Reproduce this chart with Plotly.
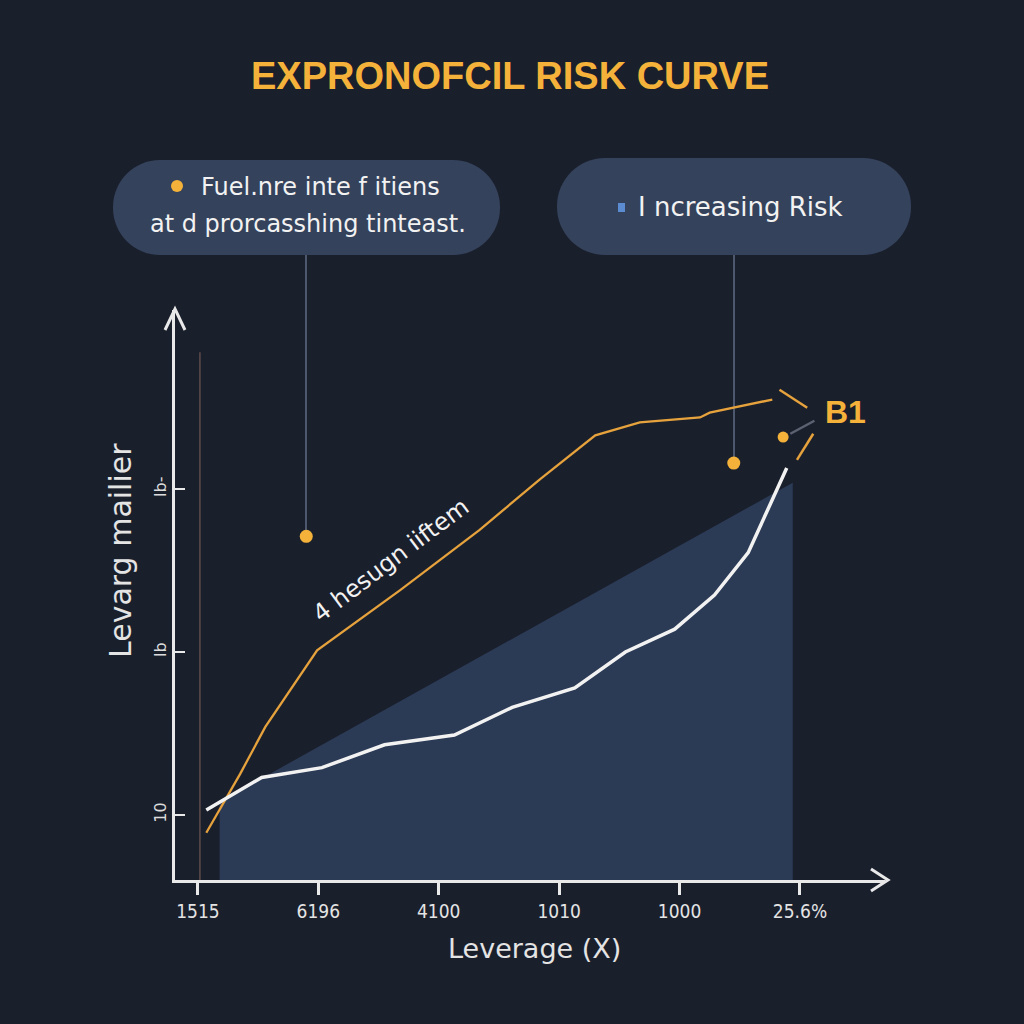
import plotly.graph_objects as go

# ---------------- data ----------------
x_tick_pos = [0, 1, 2, 3, 4, 5]
x_tick_labels = ["1515", "6196", "4100", "1010", "1000", "25.6%"]
y_tick_pos = [0, 1, 2]
y_tick_labels = ["10", "lb", "lb-"]

white_x = [0.07, 0.53, 1.03, 1.55, 2.13, 2.61, 3.13, 3.55, 3.96, 4.29, 4.57, 4.79, 4.89]
white_y = [0.03, 0.23, 0.29, 0.43, 0.49, 0.66, 0.78, 1.00, 1.14, 1.35, 1.61, 1.96, 2.13]

orange_x = [0.07, 0.35, 0.56, 0.99, 1.68, 2.34, 2.84, 3.30, 3.67, 4.17, 4.25, 4.77]
orange_y = [-0.11, 0.25, 0.54, 1.01, 1.38, 1.75, 2.06, 2.33, 2.41, 2.44, 2.47, 2.55]

band_x = [0.18, 0.18, 4.94, 4.94]
band_y = [-0.40, 0.08, 2.04, -0.40]

pin_x = [0.90, 4.45, 4.86]
pin_y = [1.71, 2.16, 2.32]

guide_x = [0.017, 0.017]
guide_y = [-0.40, 2.84]

# decorative strokes near "B1"
stroke1_x = [4.83, 5.06]; stroke1_y = [2.61, 2.50]
stroke2_x = [4.92, 5.12]; stroke2_y = [2.34, 2.42]
stroke3_x = [4.975, 5.11]; stroke3_y = [2.18, 2.34]

title_text = "EXPRONOFCIL RISK CURVE"
box1_lines = ["Fuel.nre inte f itiens", "at d prorcasshing tinteast."]
box2_text = "I ncreasing Risk"
curve_label = "4 hesugn iiftem"
b1_label = "B1"
x_title = "Leverage (X)"
y_title = "Levarg mailier"

# ---------------- styling ----------------
BG = "#1a1f2c"
BOX = "#34425b"
BAND = "#2b3a55"
ORANGE = "#e6a23c"
GOLD = "#f4b23a"
WHITE = "#f2f2f2"
AXIS = "#e9e9e9"
FONT = "DejaVu Sans, Verdana, sans-serif"
TFONT = "Liberation Sans, Arial, sans-serif"
NARROW = "DejaVu Sans Condensed, Liberation Sans Narrow, Arial Narrow, sans-serif"

L, R, T, B = 175, 885, 310, 880


def PX(px):
    return (px - L) / (R - L)


def PY(py):
    return (B - py) / (B - T)


def pill(x0, y0, x1, y1, r):
    k = 0.552 * r

    def p(x, y):
        return f"{PX(x):.5f},{PY(y):.5f}"
    d = f"M {p(x0 + r, y0)} L {p(x1 - r, y0)} "
    d += f"C {p(x1 - r + k, y0)} {p(x1, y0 + r - k)} {p(x1, y0 + r)} "
    d += f"L {p(x1, y1 - r)} "
    d += f"C {p(x1, y1 - r + k)} {p(x1 - r + k, y1)} {p(x1 - r, y1)} "
    d += f"L {p(x0 + r, y1)} "
    d += f"C {p(x0 + r - k, y1)} {p(x0, y1 - r + k)} {p(x0, y1 - r)} "
    d += f"L {p(x0, y0 + r)} "
    d += f"C {p(x0, y0 + r - k)} {p(x0 + r - k, y0)} {p(x0 + r, y0)} Z"
    return d


fig = go.Figure()

# shaded band
fig.add_trace(go.Scatter(x=band_x, y=band_y, fill="toself", fillcolor=BAND,
                         line=dict(width=0), mode="lines", hoverinfo="skip"))
# thin vertical guide
fig.add_trace(go.Scatter(x=guide_x, y=guide_y, mode="lines",
                         line=dict(color="#5e4c4c", width=1.5), hoverinfo="skip"))
# orange curve
fig.add_trace(go.Scatter(x=orange_x, y=orange_y, mode="lines",
                         line=dict(color=ORANGE, width=2.3)))
# white curve
fig.add_trace(go.Scatter(x=white_x, y=white_y, mode="lines",
                         line=dict(color=WHITE, width=3.5)))
# decorative strokes
for sx, sy, c in [(stroke1_x, stroke1_y, ORANGE), (stroke2_x, stroke2_y, "#5d6273"),
                  (stroke3_x, stroke3_y, ORANGE)]:
    fig.add_trace(go.Scatter(x=sx, y=sy, mode="lines", line=dict(color=c, width=2.5)))

# pins
fig.add_trace(go.Scatter(x=pin_x, y=pin_y, mode="markers", opacity=1,
                         marker=dict(color=GOLD, size=[13, 13, 11], opacity=1,
                                     line=dict(width=0))))

shapes = []
# connector lines from boxes to pins
shapes.append(dict(type="line", xref="paper", yref="paper",
                   x0=PX(306), y0=PY(255), x1=PX(306), y1=PY(532),
                   line=dict(color="#5f6c84", width=1.5), layer="below"))
shapes.append(dict(type="line", xref="paper", yref="paper",
                   x0=PX(734), y0=PY(255), x1=PX(734), y1=PY(458),
                   line=dict(color="#5f6c84", width=1.5), layer="below"))
# callout boxes
shapes.append(dict(type="path", xref="paper", yref="paper", path=pill(113, 160, 500, 255, 47),
                   fillcolor=BOX, line=dict(width=0), layer="below"))
shapes.append(dict(type="path", xref="paper", yref="paper", path=pill(557, 158, 911, 255, 48),
                   fillcolor=BOX, line=dict(width=0), layer="below"))
# axis arrowheads
shapes.append(dict(type="path", xref="paper", yref="paper",
                   path=f"M {PX(165)},{PY(330)} L {PX(175)},{PY(309)} L {PX(185)},{PY(330)}",
                   line=dict(color=AXIS, width=3)))
shapes.append(dict(type="path", xref="paper", yref="paper",
                   path=f"M {PX(871)},{PY(869)} L {PX(888)},{PY(880)} L {PX(871)},{PY(891)}",
                   line=dict(color=AXIS, width=3)))
# small markers inside boxes
shapes.append(dict(type="circle", xref="paper", yref="paper",
                   x0=PX(171), x1=PX(183), y0=PY(180), y1=PY(192),
                   fillcolor=GOLD, line=dict(width=0)))
shapes.append(dict(type="rect", xref="paper", yref="paper",
                   x0=PX(618), x1=PX(625), y0=PY(203), y1=PY(212),
                   fillcolor="#5b8bd0", line=dict(width=0)))


def ann(text, x, y, size, color=WHITE, family=FONT, angle=0):
    return dict(text=text, x=PX(x), y=PY(y), xref="paper", yref="paper",
                xanchor="center", yanchor="middle", textangle=angle,
                showarrow=False, font=dict(family=family, size=size, color=color))


annotations = [
    ann(f"<b>{title_text}</b>", 510, 76, 38, GOLD, TFONT),
    ann(box1_lines[0], 320, 187, 24),
    ann(box1_lines[1], 308, 224, 24),
    ann(box2_text, 740, 207, 26),
    ann(curve_label, 391, 560, 24, angle=-37),
    ann(f"<b>{b1_label}</b>", 845, 412, 32, GOLD, TFONT),
    ann(x_title, 534, 948, 27, "#e4e4e4"),
    ann(y_title, 120, 551, 30, "#e4e4e4", angle=-90),
]

fig.update_layout(
    width=1024, height=1024, autosize=False,
    paper_bgcolor=BG, plot_bgcolor=BG,
    margin=dict(l=L, r=1024 - R, t=T, b=1024 - B),
    showlegend=False,
    shapes=shapes, annotations=annotations,
    xaxis=dict(range=[-0.19, 5.706], tickvals=x_tick_pos, ticktext=x_tick_labels,
               showgrid=False, zeroline=False, showline=True, linecolor=AXIS, linewidth=3,
               ticks="outside", ticklen=12, tickwidth=2.5, tickcolor=AXIS,
               tickfont=dict(family=NARROW, size=19, color="#e4e4e4")),
    yaxis=dict(range=[-0.4, 3.1], tickvals=y_tick_pos, ticktext=y_tick_labels, tickangle=-90,
               showgrid=False, zeroline=False, showline=True, linecolor=AXIS, linewidth=3,
               ticks="inside", ticklen=10, tickwidth=2, tickcolor=AXIS,
               tickfont=dict(family=FONT, size=16, color="#dcdcdc")),
)

fig.write_html("out.html")
